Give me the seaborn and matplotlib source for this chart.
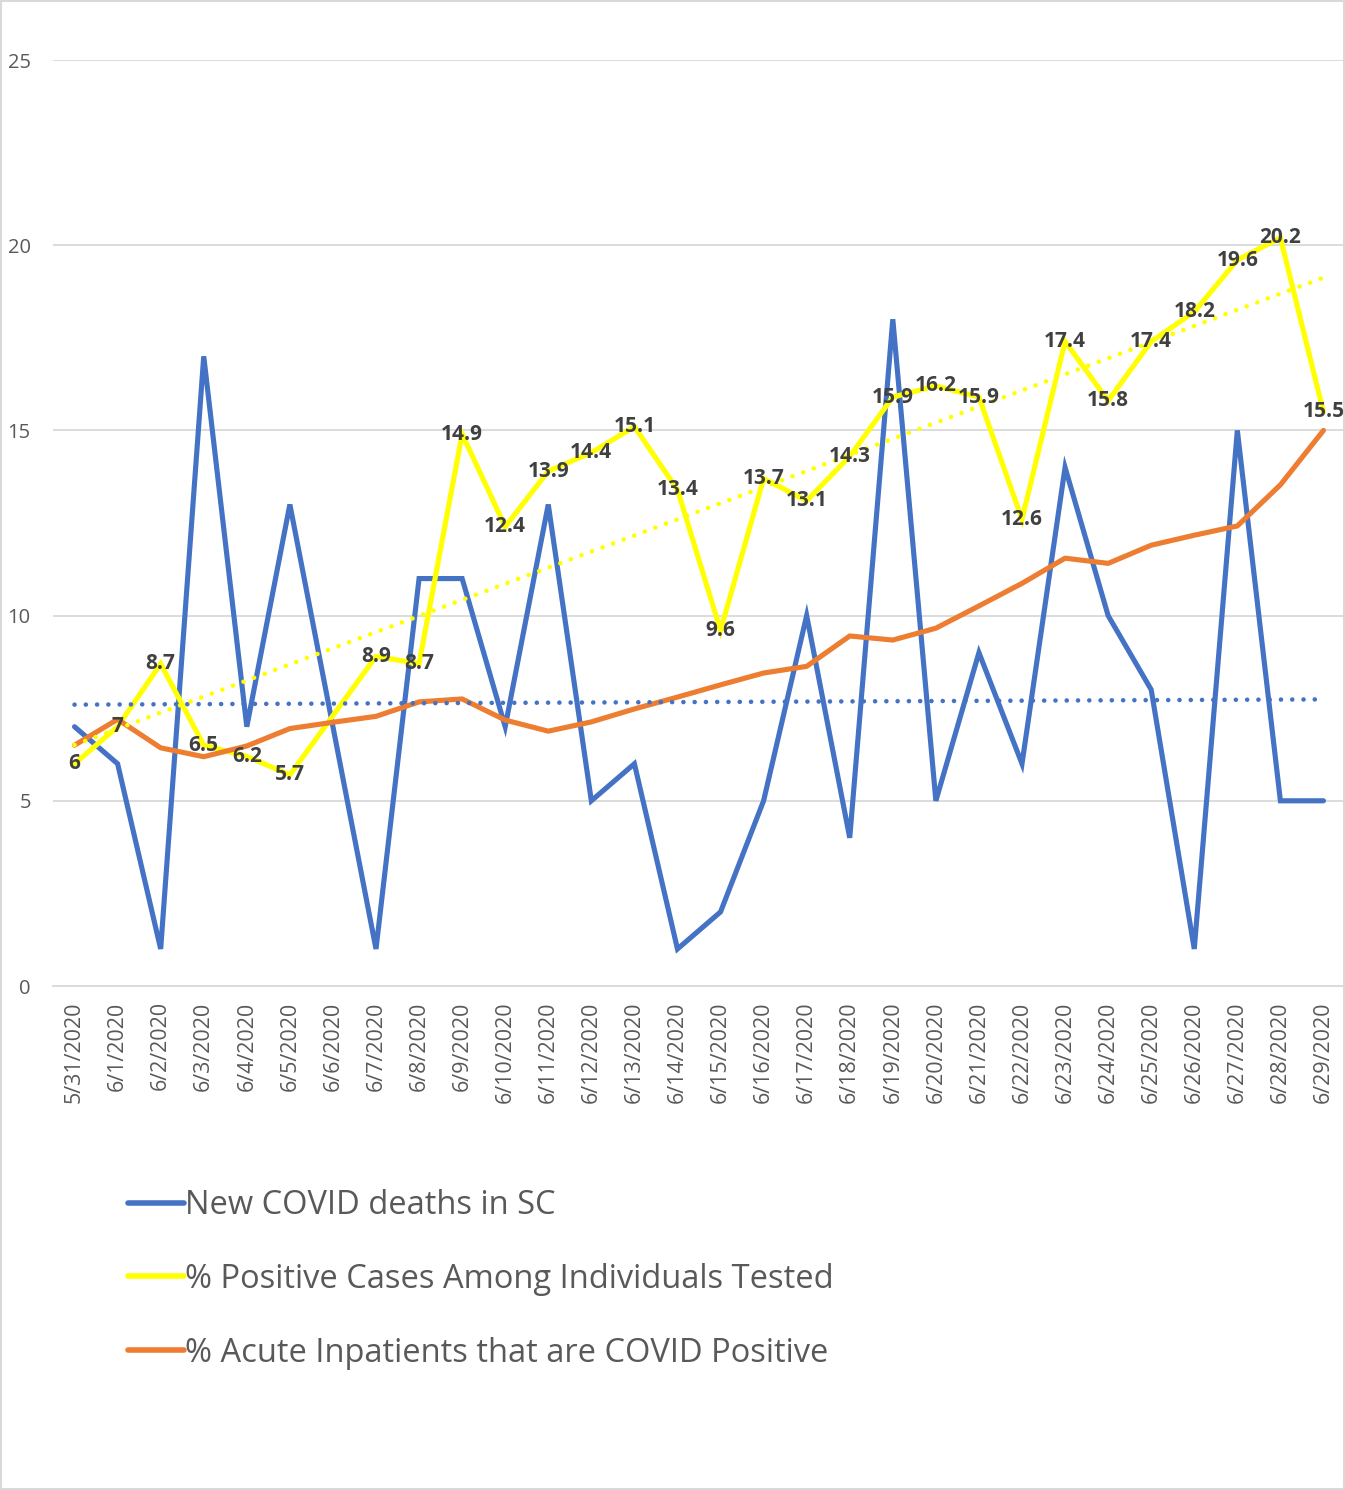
import numpy as np
import pandas as pd
import matplotlib
matplotlib.use("Agg")
import matplotlib.pyplot as plt
import seaborn as sns
from matplotlib.lines import Line2D
from matplotlib.patches import Rectangle

dates = ["5/31/2020", "6/1/2020", "6/2/2020", "6/3/2020", "6/4/2020", "6/5/2020",
         "6/6/2020", "6/7/2020", "6/8/2020", "6/9/2020", "6/10/2020", "6/11/2020",
         "6/12/2020", "6/13/2020", "6/14/2020", "6/15/2020", "6/16/2020", "6/17/2020",
         "6/18/2020", "6/19/2020", "6/20/2020", "6/21/2020", "6/22/2020", "6/23/2020",
         "6/24/2020", "6/25/2020", "6/26/2020", "6/27/2020", "6/28/2020", "6/29/2020"]
deaths = [7, 6, 1, 17, 7, 13, 7, 1, 11, 11, 7, 13, 5, 6, 1, 2, 5, 10, 4, 18,
          5, 9, 6, 14, 10, 8, 1, 15, 5, 5]
pct_positive = [6, 7, 8.7, 6.5, 6.2, 5.7, 7.3, 8.9, 8.7, 14.9, 12.4, 13.9, 14.4, 15.1,
                13.4, 9.6, 13.7, 13.1, 14.3, 15.9, 16.2, 15.9, 12.6, 17.4, 15.8, 17.4,
                18.2, 19.6, 20.2, 15.5]
pct_labels = ["6", "7", "8.7", "6.5", "6.2", "5.7", "", "8.9", "8.7", "14.9", "12.4",
              "13.9", "14.4", "15.1", "13.4", "9.6", "13.7", "13.1", "14.3", "15.9",
              "16.2", "15.9", "12.6", "17.4", "15.8", "17.4", "18.2", "19.6", "20.2", "15.5"]
pct_inpatient = [6.5, 7.2, 6.43, 6.19, 6.48, 6.95, 7.12, 7.28, 7.67, 7.75, 7.18, 6.88,
                 7.13, 7.48, 7.8, 8.13, 8.45, 8.63, 9.45, 9.34, 9.66, 10.26, 10.87,
                 11.55, 11.41, 11.9, 12.17, 12.42, 13.53, 15.0]
series_names = ["New COVID deaths in SC",
                "% Positive Cases Among Individuals Tested",
                "% Acute Inpatients that are COVID Positive"]
yticks = [0, 5, 10, 15, 20, 25]

BLUE, YELLOW, ORANGE = "#4472C4", "#FFFF00", "#ED7D31"
GRID, TXT, LBL = "#D9D9D9", "#595959", "#404040"

sns.set_theme(style="white")
plt.rcParams['font.family'] = ['Open Sans', 'DejaVu Sans']

x = np.arange(len(dates))
df = pd.DataFrame({"x": x, "deaths": deaths, "pos": pct_positive, "inp": pct_inpatient})

fig = plt.figure(figsize=(13.45, 14.9), dpi=100)
ax = fig.add_axes([53/1345, 1-986/1490, 1 - 53/1345, (986-60)/1490])

lw = 3.7
sns.lineplot(data=df, x="x", y="deaths", color=BLUE, lw=lw, ax=ax, zorder=3,
             solid_capstyle="round", solid_joinstyle="miter")
sns.lineplot(data=df, x="x", y="pos", color=YELLOW, lw=lw, ax=ax, zorder=4,
             solid_capstyle="round", solid_joinstyle="miter")
sns.lineplot(data=df, x="x", y="inp", color=ORANGE, lw=lw, ax=ax, zorder=5,
             solid_capstyle="round", solid_joinstyle="round")

# linear trendlines
for col, c in [("deaths", BLUE), ("pos", YELLOW)]:
    k, b = np.polyfit(df["x"], df[col], 1)
    ax.plot(x, k * x + b, color=c, lw=3.3, linestyle=(0, (0.01, 2.45)),
            dash_capstyle="round", zorder=6)

for xi, yi, s in zip(x, pct_positive, pct_labels):
    if s:
        ax.text(xi, yi, s, ha="center", va="center", fontsize=15, fontweight="bold",
                color=LBL, zorder=7)

ax.set_xlim(-0.5, len(dates) - 0.5)
ax.set_ylim(0, 25)
ax.set_yticks(yticks)
ax.set_yticklabels([str(v) for v in yticks], fontsize=14.5, color=TXT)
ax.set_xticks(x)
ax.set_xticklabels(dates, rotation=90, fontsize=15.5, color=TXT)
ax.set_xticks(np.arange(-0.5, len(dates)), minor=True)
ax.tick_params(axis="x", which="major", length=0, pad=11)
ax.tick_params(axis="x", which="minor", length=10, color=GRID, width=1.3)
ax.tick_params(axis="y", length=0, pad=16)
for lbl in ax.get_yticklabels():
    lbl.set_horizontalalignment("right")
ax.yaxis.grid(True, color=GRID, lw=1.3)
ax.set_axisbelow(True)
for s in ["top", "right", "left"]:
    ax.spines[s].set_visible(False)
ax.spines["bottom"].set_color(GRID)
ax.spines["bottom"].set_linewidth(1.3)
ax.set_xlabel("")
ax.set_ylabel("")

handles = [Line2D([0], [0], color=c, lw=4, solid_capstyle="round") for c in (BLUE, YELLOW, ORANGE)]
leg = fig.legend(handles, series_names, loc="upper left",
                 bbox_to_anchor=(115/1345, 1 - 1176/1490), frameon=False,
                 fontsize=23.5, handlelength=1.7, handletextpad=0.05, labelspacing=1.25,
                 borderaxespad=0)
for t in leg.get_texts():
    t.set_color(TXT)

fig.patches.append(Rectangle((0.0008, 0.0008), 0.9984, 0.9984, transform=fig.transFigure,
                             fill=False, edgecolor=GRID, lw=1.5))

fig.savefig("out.png", dpi=100)
